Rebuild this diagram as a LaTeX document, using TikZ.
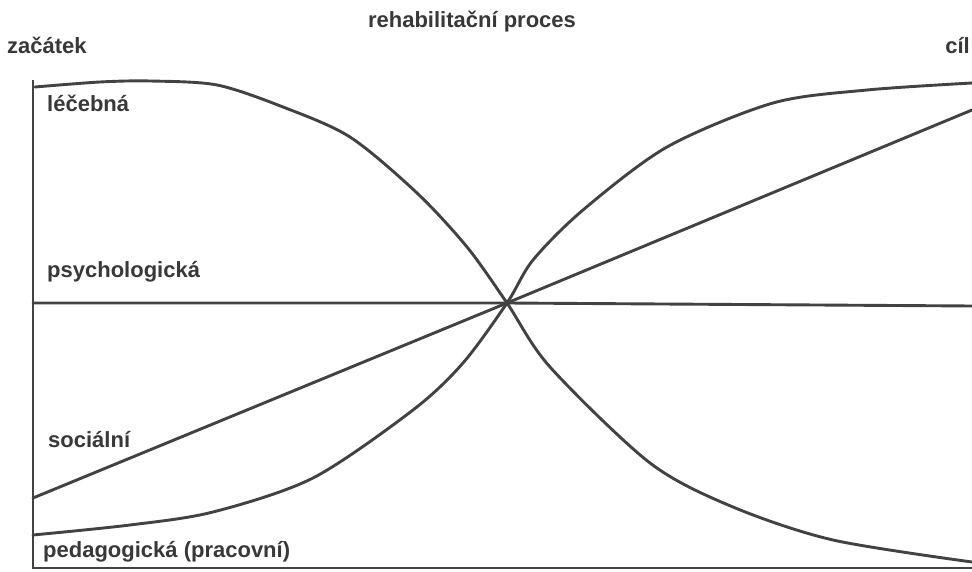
\documentclass[tikz,border=0pt]{standalone}
\usepackage{fontspec}
\setmainfont{Liberation Sans}
\usepackage{xcolor}
\usepackage{tikz}
\usetikzlibrary{positioning}
\colorlet{rhbink}{black!74}
\colorlet{rhbtext}{black!78}
\tikzset{
  rhbline/.style={line width=2.9pt,rhbink,line cap=round,line join=round},
  rhbaxis/.style={line width=2.6pt,rhbink},
  rhbcurve/.style={rhbline,smooth,tension=0.5},
  rhblabel/.style={font=\fontsize{22}{26}\selectfont\bfseries,text=rhbtext,
                   inner sep=0pt,anchor=base west}
}

\begin{document}
\begin{tikzpicture}[x=1pt,y=1pt]
  \clip (0,0) rectangle (972,571);
  \fill[white] (0,0) rectangle (972,571);

  % axes
  \coordinate (top) at (33,491);
  \coordinate (origin) at (33,3);
  \coordinate (end) at (972,3);
  \coordinate (cross) at (507,268);
  \draw[rhbaxis] (top) -- (origin) -- (end);

  % straight lines
  \coordinate (psyL) at (33,268);
  \coordinate (psyR) at (972,265);
  \coordinate (socL) at (33,73);
  \coordinate (socR) at (972,461);
  \draw[rhbline] (psyL) -- (cross) -- (psyR);
  \draw[rhbline] (socL) -- (cross) -- (socR);

  % curves
  \draw[rhbcurve] plot coordinates {(35,484) (100,489) (150,490) (217,486)
    (283,464) (350,434) (417,378) (467,324) (507,268) (550,204) (650,108)
    (733,64) (833,31) (972,9)};
  \draw[rhbcurve] plot coordinates {(33,36) (130,46) (213,59) (313,93)
    (413,161) (463,208) (507,268) (533,311) (583,361) (667,424) (773,468)
    (867,481) (972,488)};

  % labels
  \node[rhblabel,anchor=base] (title) at (472,543) {rehabilitační proces};
  \node[rhblabel] (start) at (7,517) {začátek};
  \node[rhblabel,anchor=base east] (goal) at (970,517) {cíl};
  \node[rhblabel] (lecebna) at (47,459) {léčebná};
  \node[rhblabel] (psych) at (47,293) {psychologická};
  \node[rhblabel] (social) at (48,124) {sociální};
  \node[rhblabel] (pedag) at (43,14) {pedagogická (pracovní)};
\end{tikzpicture}
\end{document}
